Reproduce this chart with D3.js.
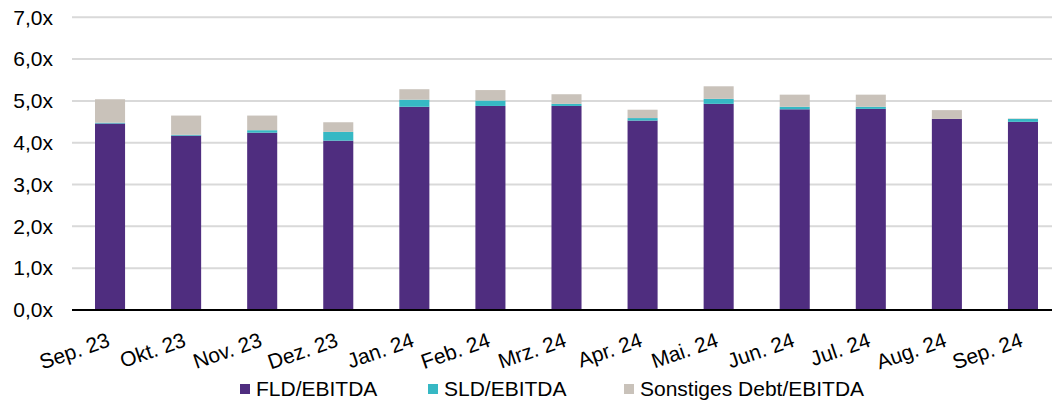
<!DOCTYPE html>
<html>
<head>
<meta charset="utf-8">
<script src="https://cdn.jsdelivr.net/npm/d3@7"></script>
<style>
  html, body { margin: 0; padding: 0; background: #fff; }
  svg { display: block; font-family: "Liberation Sans", Arial, sans-serif; }
</style>
</head>
<body>
<svg id="chart" width="1053" height="402"></svg>
<script>
// Monthly leverage multiples, stacked by debt type
const months = ["Sep. 23", "Okt. 23", "Nov. 23", "Dez. 23", "Jan. 24", "Feb. 24", "Mrz. 24",
                "Apr. 24", "Mai. 24", "Jun. 24", "Jul. 24", "Aug. 24", "Sep. 24"];
const fld   = [4.46, 4.17, 4.24, 4.05, 4.86, 4.88, 4.88, 4.53, 4.93, 4.80, 4.81, 4.57, 4.50];
const sld   = [0.02, 0.02, 0.06, 0.21, 0.17, 0.13, 0.05, 0.06, 0.12, 0.06, 0.05, 0.00, 0.07];
const other = [0.56, 0.46, 0.35, 0.23, 0.25, 0.25, 0.23, 0.20, 0.30, 0.29, 0.29, 0.21, 0.01];
const seriesNames = ["FLD/EBITDA", "SLD/EBITDA", "Sonstiges Debt/EBITDA"];
const seriesColors = ["#4F2D7F", "#36B8C4", "#C9C2BA"];
const yTicks = [0, 1, 2, 3, 4, 5, 6, 7];

const svg = d3.select("#chart");
const plotLeft = 72, plotRight = 1052, plotTop = 17.3, plotBottom = 310;
const categoryEnd = 1061;
const fontSize = 21;

const x = d3.scaleBand().domain(months).range([plotLeft, categoryEnd])
  .paddingInner(0.605).paddingOuter(0.3025);
const y = d3.scaleLinear().domain([0, 7]).range([plotBottom, plotTop]);

const rows = months.map((m, i) => ({ month: m, fld: fld[i], sld: sld[i], other: other[i] }));
const stack = d3.stack().keys(["fld", "sld", "other"]);
const layers = stack(rows);

// Horizontal gridlines
svg.append("g")
  .selectAll("line")
  .data(yTicks.filter(t => t > 0))
  .join("line")
  .attr("x1", plotLeft).attr("x2", plotRight)
  .attr("y1", d => y(d)).attr("y2", d => y(d))
  .attr("stroke", "#D9D9D9").attr("stroke-width", 2);

// Y axis labels
const yAxis = d3.axisLeft(y).tickValues(yTicks)
  .tickFormat(d => d3.format(".1f")(d).replace(".", ",") + "x")
  .tickSize(0).tickPadding(19);
const gy = svg.append("g").attr("transform", `translate(${plotLeft},0)`).call(yAxis);
gy.select(".domain").remove();
gy.selectAll("text").attr("font-size", fontSize).attr("fill", "#000")
  .attr("font-family", "Liberation Sans, Arial, sans-serif");

// Stacked bars
svg.append("g")
  .selectAll("g")
  .data(layers)
  .join("g")
  .attr("fill", (d, i) => seriesColors[i])
  .selectAll("rect")
  .data(d => d)
  .join("rect")
  .attr("x", d => x(d.data.month))
  .attr("width", x.bandwidth())
  .attr("y", d => y(d[1]))
  .attr("height", d => Math.max(0, y(d[0]) - y(d[1])));

// Baseline
svg.append("line")
  .attr("x1", plotLeft).attr("x2", plotRight)
  .attr("y1", y(0)).attr("y2", y(0))
  .attr("stroke", "#000").attr("stroke-width", 2);

// Category labels, rotated
const xAxis = d3.axisBottom(x).tickSize(0).tickPadding(0);
const gx = svg.append("g").attr("transform", `translate(0,${plotBottom})`).call(xAxis);
gx.select(".domain").remove();
gx.selectAll("text")
  .attr("font-size", fontSize).attr("fill", "#000")
  .attr("font-family", "Liberation Sans, Arial, sans-serif")
  .attr("text-anchor", "end")
  .attr("dy", 0)
  .attr("transform", "translate(1,36) rotate(-19)");

// Legend
const legendItems = [
  { name: seriesNames[0], color: seriesColors[0], x: 240 },
  { name: seriesNames[1], color: seriesColors[1], x: 428 },
  { name: seriesNames[2], color: seriesColors[2], x: 624 }
];
const lg = svg.append("g").selectAll("g").data(legendItems).join("g")
  .attr("transform", d => `translate(${d.x},384)`);
lg.append("rect").attr("width", 10).attr("height", 10).attr("fill", d => d.color);
lg.append("text").attr("x", 16).attr("y", 12)
  .attr("font-size", fontSize).attr("fill", "#000")
  .text(d => d.name);
</script>
</body>
</html>
